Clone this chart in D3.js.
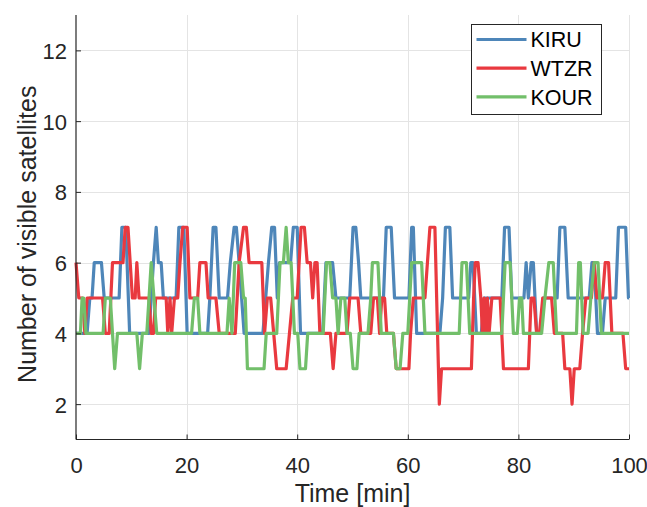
<!DOCTYPE html>
<html>
<head>
<meta charset="utf-8">
<script src="https://cdn.jsdelivr.net/npm/d3@7"></script>
<style>
  html, body { margin: 0; padding: 0; background: #fff; }
  svg { display: block; font-family: "Liberation Sans", Arial, Helvetica, sans-serif; }
</style>
</head>
<body>
<svg id="chart" width="647" height="507"></svg>
<script>
// Visible GNSS satellites per station over time (vertex times in minutes, counts).
const kiruT = [0, 2.0, 2.5, 2.9, 3.3, 4.6, 5.1, 7.8, 8.3, 9.0, 9.7, 13.2, 13.6, 14.0, 14.5, 14.9, 15.4, 15.8,
  18.1, 18.6, 19.5, 20.1, 23.8, 24.2, 24.8, 25.3, 25.9, 27.4, 27.9, 28.6, 29.0, 29.5, 30.4, 33.8, 34.3, 34.8,
  35.4, 35.9, 36.4, 36.8, 38.8, 39.3, 40.0, 40.6, 44.6, 45.2, 46.4, 47.0, 49.5, 50.1, 50.6, 51.1, 51.5, 55.6,
  56.1, 57.0, 57.6, 60.2, 60.7, 61.0, 61.6, 65.8, 66.3, 66.8, 67.6, 68.1, 71.0, 71.4, 71.8, 72.4, 73.3, 73.8,
  77.0, 77.5, 78.3, 78.8, 81.0, 81.4, 81.8, 82.3, 82.7, 83.3, 84.0, 84.5, 87.0, 87.5, 88.4, 89.0, 92.8, 93.3,
  93.7, 94.3, 95.2, 95.7, 97.6, 98.1, 99.4, 99.9, 100];
const kiruV = [4, 4, 5, 5, 6, 6, 5, 5, 7, 7, 4, 4, 5, 6, 7, 6, 6, 5,
  5, 7, 7, 4, 4, 5, 7, 7, 5, 5, 6, 7, 7, 6, 4, 4, 5, 6,
  7, 7, 5, 6, 6, 7, 7, 4, 4, 6, 6, 5, 5, 7, 7, 6, 5, 5,
  7, 7, 5, 5, 7, 7, 4, 4, 5, 7, 7, 5, 5, 6, 6, 4, 4, 5,
  5, 7, 7, 5, 5, 6, 5, 6, 6, 4, 4, 5, 5, 7, 7, 5, 5, 6,
  6, 4, 4, 5, 5, 7, 7, 5, 5];

const wtzrT = [0, 0.5, 1.2, 1.6, 2.0, 4.8, 5.3, 6.0, 6.6, 8.5, 8.9, 9.4, 10.2, 10.7, 11.0, 11.4, 13.2, 13.6,
  14.0, 14.4, 16.3, 16.6, 17.0, 17.3, 17.8, 18.4, 18.8, 19.3, 20.1, 20.6, 22.0, 22.4, 23.5, 23.9, 25.3, 25.9,
  28.8, 29.5, 30.3, 30.8, 31.3, 33.6, 34.1, 34.6, 35.2, 36.3, 38.0, 38.6, 39.2, 40.0, 40.7, 41.3, 41.8, 42.4,
  42.8, 43.2, 43.6, 44.1, 46.0, 46.5, 47.0, 49.0, 49.5, 51.0, 51.5, 53.3, 53.8, 54.5, 54.9, 55.3, 55.8, 56.2,
  57.4, 57.9, 60.2, 60.5, 61.0, 63.1, 64.0, 64.9, 65.7, 66.1, 71.5, 71.9, 72.2, 72.7, 73.2, 73.5, 73.8, 74.1,
  74.4, 74.7, 75.2, 76.7, 77.3, 81.8, 82.3, 82.8, 83.3, 83.8, 84.4, 86.0, 86.5, 88.0, 88.4, 89.3, 89.7, 90.1,
  91.1, 91.6, 92.2, 93.2, 93.7, 94.2, 95.2, 95.7, 96.3, 96.9, 98.9, 99.4, 100];
const wtzrV = [6, 5, 5, 4, 5, 5, 4, 4, 6, 6, 7, 7, 5, 5, 6, 5, 5, 4,
  4, 5, 5, 4, 5, 4, 5, 5, 6, 7, 7, 5, 5, 6, 6, 5, 5, 4,
  4, 6, 7, 7, 6, 6, 4, 5, 5, 3, 3, 4, 5, 5, 7, 7, 6, 6,
  5, 6, 6, 4, 4, 3, 4, 4, 5, 5, 4, 4, 5, 5, 4, 5, 5, 4,
  4, 3, 3, 4, 5, 5, 7, 7, 2, 3, 3, 5, 6, 6, 5, 4, 5, 4,
  5, 4, 5, 5, 3, 3, 5, 5, 4, 4, 5, 5, 4, 4, 3, 3, 2, 3,
  3, 4, 5, 5, 6, 5, 5, 6, 6, 4, 4, 3, 3];

const kourT = [0, 0.8, 1.1, 1.4, 1.8, 4.9, 5.3, 6.2, 6.6, 7.0, 7.5, 11.0, 11.5, 12.0, 12.8, 13.2, 13.6, 14.1,
  14.6, 20.9, 21.4, 22.0, 22.4, 27.3, 27.7, 28.2, 28.7, 29.8, 30.3, 30.6, 31.0, 34.0, 34.4, 36.3, 36.9, 37.5,
  38.0, 38.4, 38.9, 39.5, 40.1, 40.5, 41.5, 41.9, 44.7, 45.3, 45.9, 46.4, 47.0, 47.4, 47.9, 48.6, 49.0, 49.6,
  50.1, 50.8, 51.2, 52.8, 53.3, 53.6, 54.6, 55.2, 57.4, 57.9, 58.6, 59.1, 60.0, 60.7, 62.5, 63.1, 69.3, 69.8,
  70.6, 71.2, 77.0, 77.6, 78.5, 79.1, 79.8, 80.2, 80.6, 80.9, 84.2, 84.8, 85.5, 86.3, 86.9, 90.5, 90.9, 91.2,
  91.7, 92.6, 93.1, 93.7, 94.4, 95.0, 100];
const kourV = [4, 4, 5, 5, 4, 4, 5, 5, 4, 3, 4, 4, 3, 4, 4, 5, 6, 5,
  4, 4, 5, 5, 4, 4, 5, 4, 6, 6, 5, 5, 3, 3, 4, 4, 6, 6,
  7, 6, 6, 4, 4, 3, 3, 4, 4, 6, 6, 5, 5, 4, 5, 5, 4, 4,
  3, 3, 4, 4, 5, 6, 6, 4, 4, 3, 3, 4, 4, 6, 6, 4, 4, 6,
  6, 4, 4, 6, 6, 4, 4, 5, 5, 4, 4, 5, 6, 6, 4, 4, 6, 6,
  4, 4, 5, 6, 6, 4, 4];

const seriesNames = ["KIRU", "WTZR", "KOUR"];
const seriesColors = ["#4e86b9", "#e9393f", "#72bf6a"];
const xTicks = [0, 20, 40, 60, 80, 100];
const yTicks = [2, 4, 6, 8, 10, 12];

const series = [
  { name: seriesNames[0], color: seriesColors[0], pts: kiruT.map((t, i) => [t, kiruV[i]]) },
  { name: seriesNames[1], color: seriesColors[1], pts: wtzrT.map((t, i) => [t, wtzrV[i]]) },
  { name: seriesNames[2], color: seriesColors[2], pts: kourT.map((t, i) => [t, kourV[i]]) }
];

const svg = d3.select("#chart");
const m = { left: 76, right: 629, top: 15, bottom: 439.5 };
const x = d3.scaleLinear().domain([0, 100]).range([m.left, m.right]);
const y = d3.scaleLinear().domain([1, 13]).range([m.bottom, m.top]);
const ink = "#262626";

// grid
const grid = svg.append("g");
grid.selectAll("line.gx").data(xTicks.filter(d => d > 0)).join("line")
  .attr("x1", d => Math.round(x(d)) + 0.5).attr("x2", d => Math.round(x(d)) + 0.5)
  .attr("y1", m.top).attr("y2", m.bottom)
  .attr("stroke", "#e4e4e4").attr("stroke-width", 1);
grid.selectAll("line.gy").data(yTicks).join("line")
  .attr("y1", d => Math.round(y(d)) + 0.5).attr("y2", d => Math.round(y(d)) + 0.5)
  .attr("x1", m.left).attr("x2", m.right)
  .attr("stroke", "#e4e4e4").attr("stroke-width", 1);

// series lines
const line = d3.line().x(d => x(d[0])).y(d => y(d[1]));
const plot = svg.append("g");
series.forEach(s => {
  plot.append("path").datum(s.pts)
    .attr("d", line)
    .attr("fill", "none")
    .attr("stroke", s.color)
    .attr("stroke-width", 3.2)
    .attr("stroke-linejoin", "round");
});

// axes (ticks point inward)
const xAxis = d3.axisBottom(x).tickValues(xTicks).tickSizeInner(-5).tickSizeOuter(0);
const yAxis = d3.axisLeft(y).tickValues(yTicks).tickSizeInner(-5).tickSizeOuter(0);

const gx = svg.append("g").attr("transform", `translate(0,${m.bottom})`).call(xAxis);
const gy = svg.append("g").attr("transform", `translate(${m.left},0)`).call(yAxis);
[gx, gy].forEach(g => {
  g.select(".domain").attr("stroke", ink).attr("stroke-width", 1.2);
  g.selectAll(".tick line").attr("stroke", ink).attr("stroke-width", 1);
  g.selectAll(".tick text").attr("fill", ink).style("font-size", "22px")
    .style("font-family", "'Liberation Sans', Arial, sans-serif");
});
gy.select(".domain").attr("d", `M0,${m.top}V${m.bottom}`);
gx.select(".domain").attr("d", `M${m.left},0H${m.right}`);
gy.selectAll(".tick text").attr("x", -9).attr("dy", "0.36em");
gx.selectAll(".tick text").attr("y", 0).attr("dy", "1.5em");

// axis titles
svg.append("text")
  .attr("x", (m.left + m.right) / 2).attr("y", 502)
  .attr("text-anchor", "middle").attr("fill", ink)
  .style("font-size", "25px")
  .text("Time [min]");
svg.append("text")
  .attr("transform", `translate(36,${(m.top + m.bottom) / 2 + 7}) rotate(-90)`)
  .attr("text-anchor", "middle").attr("fill", ink)
  .style("font-size", "25px")
  .text("Number of visible satellites");

// legend
const lg = svg.append("g").attr("transform", "translate(471.5,24.5)");
lg.append("rect").attr("width", 130).attr("height", 90)
  .attr("fill", "#fff").attr("stroke", ink).attr("stroke-width", 1);
series.forEach((s, i) => {
  const yy = 15 + i * 28.7;
  lg.append("line").attr("x1", 5).attr("x2", 55).attr("y1", yy).attr("y2", yy)
    .attr("stroke", s.color).attr("stroke-width", 3.2);
  lg.append("text").attr("x", 59).attr("y", yy).attr("dy", "0.36em")
    .attr("fill", "#000").style("font-size", "21.5px").text(s.name);
});
</script>
</body>
</html>
